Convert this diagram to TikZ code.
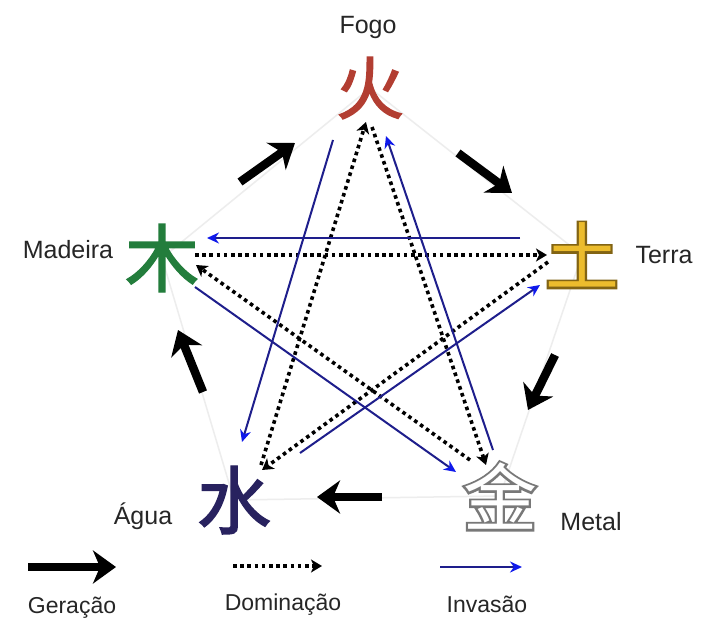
\documentclass[tikz,border=0pt]{standalone}
\usepackage{fontspec}
\setmainfont{Liberation Sans}
\newfontfamily\cjk{Noto Sans CJK SC}
\newfontfamily\cjkb[FakeBold=2]{Noto Sans CJK SC}
\newfontfamily\cjkout[FakeBold=6]{Noto Sans CJK SC}
\usetikzlibrary{arrows.meta}
\definecolor{navyline}{RGB}{30,30,140}
\definecolor{tipblue}{RGB}{15,25,235}
\definecolor{firered}{RGB}{178,62,50}
\definecolor{earthgold}{RGB}{236,188,45}
\definecolor{earthdark}{RGB}{130,100,20}
\definecolor{woodgreen}{RGB}{35,125,60}
\definecolor{waternavy}{RGB}{40,34,95}
\definecolor{metalgray}{RGB}{120,120,120}
\tikzset{
  elem/.style={inner sep=0pt, font=\cjkb\fontsize{74}{74}\selectfont},
  outl/.style={inner sep=0pt, font=\cjkout\fontsize{74}{74}\selectfont},
  inner/.style={inner sep=0pt, font=\cjk\fontsize{74}{74}\selectfont},
  lbl/.style={inner sep=0pt, font=\fontsize{25}{25}\selectfont, text=black!85},
  gen/.style={line width=8.5pt, black, -{Stealth[length=23pt,width=33pt,inset=7pt]}},
  dom/.style={line width=3.6pt, black, dash pattern=on 3.6pt off 3.6pt, -{Stealth[length=11pt,width=13pt,inset=3pt]}},
  inv/.style={line width=2pt, navyline, -{Stealth[length=12pt,width=11pt,color=tipblue]}},
}
\begin{document}
\begin{tikzpicture}[x=1pt,y=-1pt]
\useasboundingbox (0,0) rectangle (702,626);
\fill[white] (0,0) rectangle (702,626);
% faint background pentagon
\draw[black!7, line width=1.5pt, line join=round] (370,88) -- (582,255) -- (500,496) -- (234,500) -- (162,258) -- cycle;

% element characters
\node[elem, text=firered, font=\cjkb\fontsize{68}{68}\selectfont] (fire) at (370,88) {火};

\node[outl, text=earthdark] (earthout) at (582,255) {土};
\node[inner, text=earthgold] (earth) at (582,255) {土};

\node[outl, text=metalgray] (metalout) at (500,496) {金};
\node[inner, text=white] (metal) at (500,496) {金};

\node[elem, text=waternavy] (water) at (234,500) {水};
\node[elem, text=woodgreen] (wood) at (162,258) {木};

% labels
\node[lbl] (lfogo) at (368,27) {Fogo};
\node[lbl] (lterra) at (664,255) {Terra};
\node[lbl] (lmetal) at (591,522) {Metal};
\node[lbl] (lagua) at (143,516) {Água};
\node[lbl] (lmad) at (68,250) {Madeira};

% generation (thick)
\draw[gen] ([shift={(78,-76)}]wood.center) -- ([shift={(-75,55)}]fire.center);
\draw[gen] ([shift={(88,65)}]fire.center) -- ([shift={(-70,-62)}]earth.center);
\draw[gen] ([shift={(-27,100)}]earth.center) -- ([shift={(28,-86)}]metal.center);
\draw[gen] ([shift={(-118,1)}]metal.center) -- ([shift={(83,-3)}]water.center);
\draw[gen] ([shift={(-31,-108)}]water.center) -- ([shift={(16,72)}]wood.center);

% domination (dotted)
\draw[dom] ([shift={(27,-35)}]water.center) -- ([shift={(-4,34)}]fire.center);
\draw[dom] ([shift={(2,39)}]fire.center) -- ([shift={(-14,-31)}]metal.center);
\draw[dom] ([shift={(-30,-36)}]metal.center) -- ([shift={(34,7)}]wood.center);
\draw[dom] ([shift={(33,-3)}]wood.center) -- ([shift={(-35,0)}]earth.center);
\draw[dom] ([shift={(-34,7)}]earth.center) -- ([shift={(28,-30)}]water.center);

% invasion (blue)
\draw[inv] ([shift={(-62,-17)}]earth.center) -- ([shift={(45,-20)}]wood.center);
\draw[inv] ([shift={(-37,52)}]fire.center) -- ([shift={(8,-58)}]water.center);
\draw[inv] ([shift={(-7,-46)}]metal.center) -- ([shift={(16,48)}]fire.center);
\draw[inv] ([shift={(33,29)}]wood.center) -- ([shift={(-44,-24)}]metal.center);
\draw[inv] ([shift={(66,-47)}]water.center) -- ([shift={(-42,30)}]earth.center);

% legend
\coordinate (g1) at (28,567);  \coordinate (g2) at (116,567);
\coordinate (d1) at (233,566); \coordinate (d2) at (322,566);
\coordinate (i1) at (440,567); \coordinate (i2) at (522,567);
\draw[gen] (g1) -- (g2);
\draw[dom] (d1) -- (d2);
\draw[inv] (i1) -- (i2);
\node[lbl, font=\fontsize{23}{23}\selectfont] (lgen) at (72,608) {Geração};
\node[lbl, font=\fontsize{23}{23}\selectfont] (ldom) at (283,605) {Dominação};
\node[lbl, font=\fontsize{23}{23}\selectfont] (linv) at (487,604) {Invasão};
\end{tikzpicture}
\end{document}
